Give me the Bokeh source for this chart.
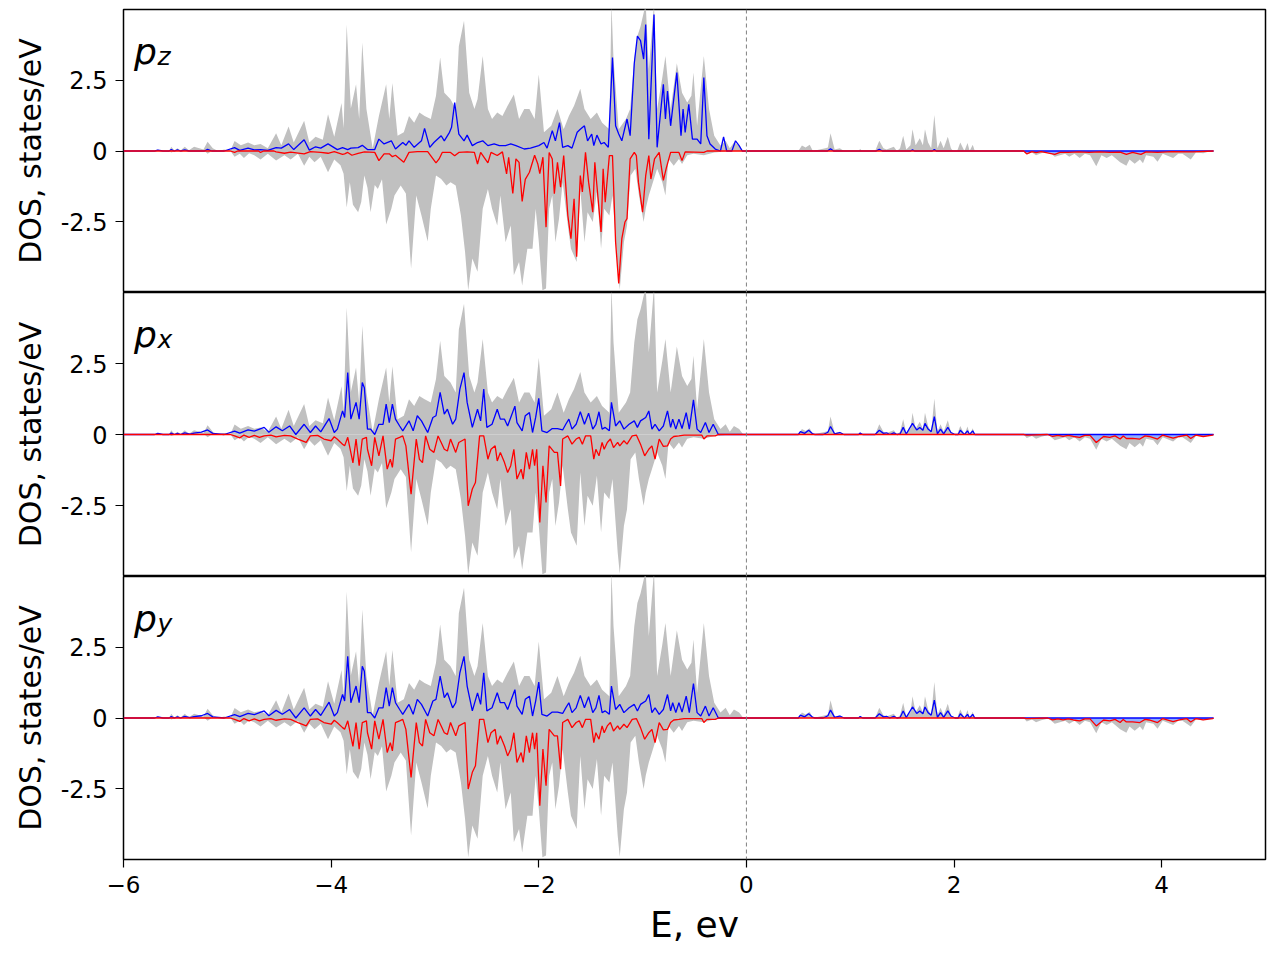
from bokeh.plotting import figure
from bokeh.layouts import column
from bokeh.models import Range1d, FixedTicker, Span, Label
from bokeh.embed import file_html
from bokeh.resources import INLINE

# ---------------- data (energy eV, DOS states/eV) ----------------
E_TICKS = [-6, -4, -2, 0, 2, 4]
E_TICK_LABELS = ["\u22126", "\u22124", "\u22122", "0", "2", "4"]
DOS_TICKS = [-2.5, 0, 2.5]
DOS_TICK_LABELS = ["-2.5", "0", "2.5"]
ORBITALS = ["z", "x", "y"]

# total DOS, spin up (grey, positive)
GREY_UP = [(-6.0,0),(-5.70,0),(-5.67,0.05),(-5.62,0),(-5.56,0),(-5.54,0.15),(-5.51,0.02),(-5.48,0.1),(-5.45,0.02),
 (-5.41,0.15),(-5.37,0.03),(-5.32,0.15),(-5.27,0.1),(-5.23,0.05),(-5.19,0.33),(-5.14,0.1),(-5.09,0.0),(-5.03,0.05),
 (-4.97,0.02),(-4.93,0.35),(-4.87,0.2),(-4.80,0.3),(-4.74,0.2),(-4.68,0.25),(-4.61,0.1),(-4.53,0.63),(-4.48,0.2),
 (-4.41,0.87),(-4.36,0.3),(-4.26,1.07),(-4.21,0.3),(-4.15,0.5),(-4.08,0.4),(-4.03,1.3),(-3.97,0.5),(-3.90,1.7),
 (-3.88,0.8),(-3.85,4.47),(-3.81,1.5),(-3.76,2.36),(-3.73,1.13),(-3.70,3.83),(-3.66,1.48),(-3.60,0.1),(-3.54,1.24),
 (-3.47,2.36),(-3.44,1.13),(-3.41,2.4),(-3.36,0.54),(-3.30,0.66),(-3.25,1.24),(-3.20,1.0),(-3.15,1.36),(-3.10,1.24),
 (-3.04,1.13),(-2.99,1.95),(-2.95,3.3),(-2.91,2.06),(-2.85,1.83),(-2.80,1.48),(-2.77,3.7),(-2.72,4.6),(-2.67,2.06),
 (-2.62,1.48),(-2.59,1.83),(-2.54,3.36),(-2.49,1.48),(-2.45,1.13),(-2.40,1.36),(-2.35,1.24),(-2.30,1.6),(-2.24,2.0),
 (-2.19,1.13),(-2.14,1.48),(-2.09,1.48),(-2.04,1.13),(-2.00,2.7),(-1.95,0.66),(-1.88,0.89),(-1.82,1.48),(-1.76,0.77),
 (-1.71,1.24),(-1.66,1.6),(-1.60,2.2),(-1.56,1.48),(-1.50,1.13),(-1.44,1.36),(-1.39,1.0),(-1.32,0.77),(-1.30,5.2),
 (-1.28,3.24),(-1.23,0.77),(-1.16,1.13),(-1.12,1.48),(-1.08,3.24),(-1.05,4.06),(-1.02,4.4),(-0.97,5.2),(-0.94,2.9),
 (-0.89,5.2),(-0.86,1.48),(-0.81,2.6),(-0.78,3.36),(-0.73,1.48),(-0.67,3.1),(-0.62,2.06),(-0.57,1.71),(-0.53,1.95),
 (-0.51,2.77),(-0.475,0.89),(-0.41,3.36),(-0.36,1.48),(-0.31,0.54),(-0.25,0.19),(-0.20,0.36),(-0.16,0.1),(-0.12,0.3),
 (-0.07,0.19),(-0.03,0.0),(0.50,0),(0.535,0.19),(0.57,0.12),(0.61,0.22),(0.64,0),(0.76,0.1),(0.785,0.12),(0.81,0.63),
 (0.85,0.05),(0.90,0.1),(0.94,0),(1.08,0),(1.096,0.08),(1.11,0),(1.24,0),(1.28,0.36),(1.32,0.1),(1.35,0.05),(1.42,0.15),
 (1.45,0),(1.48,0.1),(1.51,0.54),(1.54,0.05),(1.58,0.2),(1.60,0.77),(1.63,0.2),(1.67,0.45),(1.70,0.2),(1.72,0.77),
 (1.75,0.3),(1.78,0.1),(1.81,1.27),(1.84,0.1),(1.87,0.36),(1.90,0.1),(1.94,0.5),(1.97,0.1),(1.99,0),(2.03,0),(2.06,0.3),
 (2.10,0),(2.13,0.28),(2.15,0),(2.18,0.22),(2.20,0),(4.5,0)]

# total DOS, spin down (grey, negative)
GREY_DN = [(-6.0,0),(-5.56,0),(-5.54,-0.05),(-5.50,0),(-5.22,0),(-5.19,-0.1),(-5.15,0),(-4.97,0),(-4.93,-0.2),(-4.88,-0.1),
 (-4.84,-0.25),(-4.79,-0.08),(-4.74,-0.15),(-4.68,-0.3),(-4.61,-0.1),(-4.53,-0.34),(-4.45,-0.15),(-4.39,-0.3),(-4.32,-0.1),
 (-4.26,-0.52),(-4.21,-0.2),(-4.16,-0.4),(-4.10,-0.2),(-4.03,-0.75),(-3.97,-0.3),(-3.91,-0.5),(-3.88,-0.8),(-3.85,-2.0),
 (-3.82,-1.1),(-3.79,-1.9),(-3.74,-2.16),(-3.71,-1.8),(-3.68,-0.87),(-3.65,-1.3),(-3.62,-2.16),(-3.58,-1.2),(-3.55,-1.34),
 (-3.51,-1.0),(-3.47,-2.6),(-3.42,-2.04),(-3.39,-1.57),(-3.33,-1.22),(-3.28,-1.5),(-3.23,-4.15),(-3.18,-1.57),(-3.13,-2.28),
 (-3.07,-3.2),(-3.04,-2.04),(-2.99,-0.87),(-2.94,-0.99),(-2.89,-1.22),(-2.85,-1.1),(-2.80,-1.22),(-2.75,-2.28),(-2.71,-3.57),
 (-2.68,-4.92),(-2.64,-3.8),(-2.59,-4.27),(-2.54,-2.04),(-2.49,-1.34),(-2.45,-2.04),(-2.40,-2.63),(-2.37,-1.57),(-2.32,-3.22),
 (-2.27,-2.63),(-2.24,-4.39),(-2.19,-3.92),(-2.16,-4.75),(-2.11,-3.45),(-2.06,-3.45),(-2.03,-2.04),(-2.00,-3.2),(-1.965,-4.92),
 (-1.93,-4.86),(-1.90,-2.04),(-1.87,-1.57),(-1.84,-3.22),(-1.805,-2.39),(-1.77,-1.1),(-1.72,-2.63),(-1.69,-3.45),(-1.635,-3.92),
 (-1.60,-1.34),(-1.56,-3.22),(-1.53,-2.16),(-1.48,-2.51),(-1.44,-1.45),(-1.40,-3.45),(-1.37,-2.04),(-1.32,-2.28),(-1.29,-1.57),
 (-1.24,-4.15),(-1.22,-4.9),(-1.18,-3.22),(-1.15,-2.63),(-1.115,-0.87),(-1.07,-0.63),(-1.035,-1.57),(-0.99,-2.51),(-0.97,-2.04),
 (-0.94,-1.57),(-0.91,-1.22),(-0.86,-0.63),(-0.81,-1.1),(-0.78,-1.57),(-0.75,-0.28),(-0.70,-0.52),(-0.65,-0.28),(-0.62,-0.46),
 (-0.57,-0.15),(-0.51,-0.1),(-0.41,-0.15),(-0.31,-0.05),(-0.15,0),(2.67,0),(2.70,-0.12),(2.75,-0.05),(2.79,-0.15),(2.84,-0.08),
 (2.91,-0.02),(2.97,-0.2),(3.02,-0.15),(3.07,-0.1),(3.11,-0.2),(3.16,-0.1),(3.21,-0.25),(3.26,-0.1),(3.31,-0.15),(3.37,-0.54),
 (3.42,-0.15),(3.47,-0.25),(3.52,-0.15),(3.60,-0.4),(3.66,-0.52),(3.69,-0.3),(3.74,-0.45),(3.79,-0.3),(3.82,-0.43),(3.85,-0.15),
 (3.92,-0.2),(3.96,-0.38),(4.01,-0.1),(4.11,-0.25),(4.16,-0.1),(4.20,-0.1),(4.28,-0.3),(4.33,-0.05),(4.40,-0.08),(4.46,-0.02),(4.51,0)]

# p_z spin up (blue) and spin down (red)
BLUE_Z = [(-6.0,0),(-5.70,0),(-5.67,0.03),(-5.62,0),(-5.56,0),(-5.54,0.05),(-5.51,0),(-5.48,0.04),(-5.45,0),(-5.41,0.04),
 (-5.37,0),(-5.22,0),(-5.19,0.06),(-5.15,0),(-5.03,0),(-4.93,0.12),(-4.88,0.02),(-4.80,0.1),(-4.74,0.04),(-4.68,0.05),
 (-4.61,0.02),(-4.53,0.12),(-4.48,0.1),(-4.41,0.25),(-4.36,0.05),(-4.26,0.4),(-4.21,0.03),(-4.15,0.15),(-4.10,0.1),(-4.03,0.25),
 (-3.94,0.05),(-3.89,0.12),(-3.84,0.05),(-3.81,0.1),(-3.74,0.12),(-3.70,0.2),(-3.65,0.05),(-3.58,0.05),(-3.54,0.42),(-3.49,0.25),
 (-3.42,0.36),(-3.38,0.07),(-3.31,0.3),(-3.28,0.2),(-3.25,0.36),(-3.20,0.13),(-3.13,0.36),(-3.10,0.8),(-3.05,0.13),(-3.01,0.3),
 (-2.94,0.54),(-2.91,0.36),(-2.86,0.66),(-2.84,0.84),(-2.81,1.71),(-2.77,0.6),(-2.72,0.36),(-2.69,0.56),(-2.64,0.19),(-2.59,0.3),
 (-2.54,0.36),(-2.49,0.19),(-2.43,0.25),(-2.38,0.19),(-2.32,0.19),(-2.27,0.25),(-2.22,0.19),(-2.14,0.07),(-2.08,0.1),(-2.00,0.19),
 (-1.95,0.3),(-1.92,0.1),(-1.87,0.72),(-1.84,0.36),(-1.80,1.0),(-1.77,0.13),(-1.72,0.19),(-1.68,0.1),(-1.63,0.66),(-1.60,0.77),
 (-1.56,0.89),(-1.53,0.36),(-1.49,0.6),(-1.47,0.19),(-1.44,0.56),(-1.40,0.25),(-1.37,0.3),(-1.33,0.13),(-1.29,3.3),(-1.26,0.89),
 (-1.23,0.6),(-1.20,0.36),(-1.15,1.13),(-1.12,0.54),(-1.08,3.1),(-1.05,4.06),(-1.02,3.9),(-0.99,3.25),(-0.97,4.47),(-0.94,0.42),
 (-0.89,4.82),(-0.86,0.13),(-0.80,2.36),(-0.78,1.13),(-0.76,2.12),(-0.73,0.89),(-0.67,2.77),(-0.63,0.54),(-0.61,1.48),(-0.59,0.66),
 (-0.555,1.65),(-0.52,0.42),(-0.475,0.42),(-0.44,0.25),(-0.41,2.6),(-0.38,0.54),(-0.35,0.25),(-0.30,0.07),(-0.25,0.0),(-0.22,0.5),
 (-0.19,0.0),(-0.14,0.0),(-0.105,0.36),(-0.07,0.19),(-0.04,0.0),(0.78,0),(0.81,0.08),(0.84,0),(1.25,0),(1.28,0.06),(1.31,0),
 (1.58,0),(1.60,0.04),(1.62,0),(1.79,0),(1.81,0.05),(1.83,0),(4.5,0)]

RED_Z = [(-6.0,0),(-4.97,0),(-4.93,-0.05),(-4.90,0),(-4.70,0),(-4.68,-0.05),(-4.65,0),(-4.55,0),(-4.53,-0.03),(-4.45,-0.08),
 (-4.39,-0.04),(-4.26,-0.1),(-4.20,-0.02),(-4.10,-0.05),(-4.03,-0.08),(-3.97,-0.02),(-3.89,-0.12),(-3.87,-0.1),(-3.84,-0.05),
 (-3.80,-0.15),(-3.74,-0.08),(-3.68,-0.03),(-3.58,-0.05),(-3.54,-0.34),(-3.49,-0.1),(-3.44,-0.1),(-3.41,-0.2),(-3.38,-0.15),
 (-3.30,-0.4),(-3.25,-0.05),(-3.17,-0.02),(-3.07,-0.02),(-2.99,-0.42),(-2.96,-0.28),(-2.93,-0.05),(-2.85,-0.05),(-2.81,-0.17),
 (-2.77,-0.05),(-2.69,-0.03),(-2.62,-0.05),(-2.59,-0.46),(-2.56,-0.05),(-2.49,-0.42),(-2.46,-0.05),(-2.40,-0.16),(-2.35,-0.03),
 (-2.31,-0.81),(-2.29,-0.22),(-2.25,-1.5),(-2.22,-0.28),(-2.19,-0.4),(-2.16,-1.78),(-2.13,-1.0),(-2.09,-0.75),(-2.04,-0.15),
 (-2.01,-0.45),(-1.99,-0.8),(-1.96,-0.22),(-1.93,-2.69),(-1.90,-0.05),(-1.87,-0.28),(-1.85,-1.51),(-1.82,-0.4),(-1.79,-1.28),
 (-1.76,-0.16),(-1.72,-2.28),(-1.69,-3.1),(-1.66,-1.69),(-1.635,-3.74),(-1.60,-0.87),(-1.58,-1.45),(-1.55,-0.05),(-1.52,-1.1),
 (-1.48,-2.16),(-1.46,-0.4),(-1.44,-1.22),(-1.40,-2.86),(-1.38,-0.63),(-1.36,-1.81),(-1.32,-0.16),(-1.29,-0.16),(-1.26,-3.22),
 (-1.23,-4.68),(-1.20,-3.1),(-1.17,-2.51),(-1.15,-2.39),(-1.12,-0.28),(-1.08,-0.05),(-1.06,-0.16),(-1.04,-1.1),(-1.00,-2.16),
 (-0.97,-0.87),(-0.94,-0.16),(-0.92,-0.99),(-0.885,-0.28),(-0.84,-0.05),(-0.80,-1.04),(-0.77,-0.58),(-0.73,-0.05),(-0.65,-0.05),
 (-0.62,-0.34),(-0.59,-0.03),(-0.41,-0.05),(-0.38,0),(2.67,0),(2.70,-0.1),(2.75,-0.02),(2.79,-0.06),(2.84,-0.02),(2.97,-0.12),
 (3.02,-0.05),(3.10,-0.05),(3.20,-0.03),(3.30,-0.05),(3.40,-0.03),(3.50,-0.05),(3.60,-0.04),(3.66,-0.12),(3.72,-0.05),
 (3.80,-0.12),(3.85,-0.03),(3.96,-0.05),(4.10,-0.02),(4.30,-0.03),(4.5,0)]

# p_x spin up (blue) and spin down (red); p_y is identical
BLUE_X = [(-6.0,0),(-5.70,0),(-5.67,0.04),(-5.62,0),(-5.56,0),(-5.54,0.05),(-5.51,0),(-5.48,0.04),(-5.45,0),(-5.41,0.06),
 (-5.36,0.01),(-5.32,0.05),(-5.25,0.08),(-5.19,0.16),(-5.14,0.04),(-5.03,0),(-4.93,0.12),(-4.88,0.05),(-4.80,0.16),(-4.74,0.12),
 (-4.645,0.25),(-4.60,0.08),(-4.53,0.27),(-4.47,0.13),(-4.40,0.3),(-4.34,0.0),(-4.26,0.36),(-4.20,0.07),(-4.15,0.3),(-4.10,0.09),
 (-4.02,0.56),(-3.97,0.07),(-3.94,0.19),(-3.89,0.83),(-3.87,0.6),(-3.84,2.18),(-3.81,0.54),(-3.76,1.13),(-3.73,0.54),(-3.70,1.83),
 (-3.68,1.65),(-3.65,0.19),(-3.62,0.19),(-3.58,0.0),(-3.54,0.36),(-3.50,0.36),(-3.47,1.07),(-3.44,0.42),(-3.41,1.07),(-3.38,0.54),
 (-3.34,0.3),(-3.31,0.13),(-3.25,0.48),(-3.21,0.13),(-3.17,0.66),(-3.13,0.48),(-3.07,0.07),(-3.02,0.6),(-2.99,0.66),(-2.95,1.48),
 (-2.91,0.72),(-2.88,0.89),(-2.83,0.36),(-2.80,0.54),(-2.76,1.6),(-2.72,2.18),(-2.69,1.13),(-2.64,0.25),(-2.59,0.89),(-2.56,0.48),
 (-2.53,1.6),(-2.50,0.25),(-2.45,0.36),(-2.40,0.89),(-2.37,0.54),(-2.33,0.54),(-2.30,0.3),(-2.27,0.6),(-2.23,1.0),(-2.21,0.42),
 (-2.16,0.13),(-2.13,0.66),(-2.09,0.77),(-2.06,0.07),(-2.03,0.6),(-2.00,1.27),(-1.97,0.13),(-1.92,0.07),(-1.87,0.21),(-1.82,0.21),
 (-1.77,0.16),(-1.74,0.36),(-1.71,0.54),(-1.68,0.19),(-1.64,0.36),(-1.60,0.8),(-1.56,0.36),(-1.52,0.75),(-1.48,0.19),(-1.45,0.36),
 (-1.42,0.8),(-1.39,0.19),(-1.36,0.25),(-1.32,0.13),(-1.30,1.13),(-1.26,0.3),(-1.22,0.48),(-1.18,0.19),(-1.13,0.36),(-1.08,0.48),
 (-1.05,0.25),(-1.02,0.48),(-0.97,0.6),(-0.94,0.83),(-0.91,0.19),(-0.88,0.36),(-0.84,0.13),(-0.80,0.3),(-0.76,0.83),(-0.73,0.25),
 (-0.71,0.54),(-0.68,0.19),(-0.65,0.54),(-0.62,0.21),(-0.58,0.77),(-0.55,0.19),(-0.51,1.22),(-0.475,0.19),(-0.44,0.07),
 (-0.395,0.42),(-0.36,0.07),(-0.32,0.36),(-0.28,0.07),(-0.27,0),(0.50,0),(0.52,0.1),(0.56,0.04),(0.60,0.15),(0.64,0.02),(0.66,0),
 (0.74,0),(0.785,0.08),(0.81,0.28),(0.85,0.02),(0.90,0.07),(0.94,0),(1.08,0),(1.096,0.05),(1.12,0),(1.24,0),(1.28,0.15),
 (1.32,0.04),(1.35,0.06),(1.38,0),(1.42,0.06),(1.45,0),(1.48,0.02),(1.51,0.25),(1.54,0.02),(1.60,0.39),(1.64,0.16),(1.67,0.25),
 (1.70,0.15),(1.72,0.39),(1.75,0.19),(1.78,0.1),(1.81,0.63),(1.84,0.02),(1.87,0.19),(1.90,0.02),(1.94,0.25),(1.97,0.07),(2.01,0),
 (2.04,0),(2.06,0.15),(2.10,0),(2.13,0.13),(2.15,0),(2.18,0.13),(2.20,0),(4.5,0)]

RED_X = [(-6.0,0),(-4.97,0),(-4.93,-0.05),(-4.88,-0.12),(-4.84,-0.02),(-4.79,-0.1),(-4.74,-0.03),(-4.69,-0.1),(-4.645,-0.05),
 (-4.58,-0.02),(-4.53,-0.08),(-4.45,-0.03),(-4.39,-0.05),(-4.32,-0.16),(-4.24,-0.28),(-4.20,-0.05),(-4.13,-0.03),(-4.07,-0.16),
 (-4.00,-0.22),(-3.97,-0.08),(-3.94,-0.17),(-3.89,-0.34),(-3.87,-0.4),(-3.84,-0.1),(-3.79,-1.0),(-3.76,-0.16),(-3.73,-1.1),
 (-3.70,-0.16),(-3.66,-0.1),(-3.65,-0.52),(-3.61,-1.1),(-3.58,-0.1),(-3.54,-0.75),(-3.50,-0.05),(-3.46,-1.22),(-3.43,-0.87),
 (-3.41,-1.16),(-3.38,-0.16),(-3.34,-0.1),(-3.31,-0.05),(-3.28,-0.4),(-3.23,-2.1),(-3.18,-0.16),(-3.15,-0.87),(-3.12,-0.99),
 (-3.09,-0.05),(-3.05,-0.52),(-3.01,-0.63),(-2.97,-0.05),(-2.94,-0.28),(-2.91,-0.52),(-2.88,-0.58),(-2.85,-0.16),(-2.80,-0.63),
 (-2.77,-0.28),(-2.71,-0.16),(-2.68,-2.51),(-2.64,-1.92),(-2.61,-1.69),(-2.57,-0.05),(-2.53,-0.05),(-2.49,-0.87),(-2.46,-0.52),
 (-2.42,-0.4),(-2.40,-0.93),(-2.37,-0.63),(-2.33,-0.99),(-2.30,-1.34),(-2.27,-1.1),(-2.24,-0.52),(-2.21,-1.57),(-2.17,-1.22),
 (-2.15,-1.57),(-2.12,-0.63),(-2.09,-1.22),(-2.06,-0.52),(-2.04,-1.1),(-2.02,-0.52),(-1.99,-3.1),(-1.96,-1.1),(-1.93,-2.39),
 (-1.90,-0.4),(-1.85,-0.63),(-1.82,-0.63),(-1.79,-1.81),(-1.77,-0.16),(-1.72,-0.05),(-1.68,-0.34),(-1.64,-0.16),(-1.61,-0.1),
 (-1.58,-0.34),(-1.55,-0.05),(-1.50,-0.05),(-1.47,-0.87),(-1.45,-0.52),(-1.42,-0.75),(-1.39,-0.28),(-1.37,-0.52),(-1.34,-0.28),
 (-1.31,-0.16),(-1.28,-0.46),(-1.24,-0.28),(-1.22,-0.4),(-1.18,-0.22),(-1.15,-0.34),(-1.10,-0.05),(-1.06,-0.02),(-1.02,-0.34),
 (-0.98,-0.75),(-0.94,-0.52),(-0.91,-0.4),(-0.88,-0.87),(-0.84,-0.16),(-0.80,-0.42),(-0.76,-0.4),(-0.73,-0.16),(-0.70,-0.07),
 (-0.65,-0.05),(-0.60,-0.02),(-0.43,-0.02),(-0.41,-0.16),(-0.38,-0.05),(-0.30,-0.05),(-0.27,0),(2.67,0),(2.70,-0.02),(2.90,0),
 (2.95,-0.07),(3.00,-0.03),(3.05,-0.07),(3.10,-0.03),(3.15,-0.07),(3.21,-0.1),(3.26,-0.03),(3.31,-0.03),(3.37,-0.28),(3.44,-0.07),
 (3.50,-0.1),(3.55,-0.05),(3.60,-0.16),(3.63,-0.05),(3.66,-0.14),(3.72,-0.14),(3.79,-0.16),(3.84,-0.05),(3.88,-0.07),(3.96,-0.16),
 (4.01,-0.02),(4.11,-0.13),(4.17,-0.07),(4.24,-0.02),(4.28,-0.14),(4.33,-0.02),(4.40,-0.07),(4.49,-0.02),(4.5,0)]

BLUE_Y = BLUE_X
RED_Y = RED_X


def split(pairs):
    return [a for a, _ in pairs], [b for _, b in pairs]


FONT = "DejaVu Sans"
x_range = Range1d(-6, 5)
series = [(BLUE_Z, RED_Z), (BLUE_X, RED_X), (BLUE_Y, RED_Y)]
eu, gu = split(GREY_UP)
ed, gd = split(GREY_DN)

figs = []
for i, (sub, (blue, red)) in enumerate(zip(ORBITALS, series)):
    last = i == 2
    p = figure(frame_width=1142, frame_height=284 if i == 1 else 283,
               x_range=x_range, y_range=Range1d(-5, 5),
               output_backend="svg", toolbar_location=None,
               min_border_left=123, min_border_right=3,
               min_border_top=9 if i == 0 else 0,
               min_border_bottom=96 if last else 0)
    p.grid.visible = False
    p.outline_line_color = "black"
    p.outline_line_width = 1.5
    p.outline_line_alpha = 1.0
    p.background_fill_color = "white"
    p.border_fill_color = "white"

    p.varea(x=eu, y1=0, y2=gu, fill_color="#c0c0c0")
    p.varea(x=ed, y1=gd, y2=0, fill_color="#c0c0c0")

    eb, vb = split(blue)
    er, vr = split(red)
    erf = [e for e in er if e >= 2.6]
    vrf = [v for e, v in zip(er, vr) if e >= 2.6]
    p.varea(x=erf, y1=vrf, y2=0, fill_color="#8fb0ff")
    p.line(eb, vb, line_color="#0000ff", line_width=1.3)
    p.line(er, vr, line_color="#ff0000", line_width=1.3)

    p.add_layout(Span(location=0, dimension="height", line_color="#808080",
                      line_dash="4 3", line_width=1))

    p.add_layout(Label(x=-5.90, y=3.53, text="p", text_font=FONT, text_font_size="36px",
                       text_font_style="italic", text_baseline="alphabetic", text_color="black"))
    p.add_layout(Label(x=-5.673, y=3.35, text=sub, text_font=FONT, text_font_size="25px",
                       text_font_style="italic", text_baseline="alphabetic", text_color="black"))

    ya = p.yaxis[0]
    ya.ticker = FixedTicker(ticks=DOS_TICKS)
    ya.major_label_overrides = dict(zip(DOS_TICKS, DOS_TICK_LABELS))
    ya.minor_tick_line_color = None
    ya.major_tick_in = 0
    ya.major_tick_out = 8
    ya.major_tick_line_width = 1.2
    ya.axis_line_color = None
    ya.major_label_text_font = FONT
    ya.major_label_text_font_size = "24px"
    ya.major_label_text_color = "black"
    ya.major_label_standoff = 8
    ya.axis_label = "DOS, states/eV"
    ya.axis_label_text_font = FONT
    ya.axis_label_text_font_size = "30px"
    ya.axis_label_text_font_style = "normal"
    ya.axis_label_text_color = "black"
    ya.axis_label_standoff = 10

    xa = p.xaxis[0]
    if last:
        xa.ticker = FixedTicker(ticks=E_TICKS)
        xa.major_label_overrides = dict(zip(E_TICKS, E_TICK_LABELS))
        xa.minor_tick_line_color = None
        xa.major_tick_in = 0
        xa.major_tick_out = 8
        xa.major_tick_line_width = 1.2
        xa.axis_line_color = None
        xa.major_label_text_font = FONT
        xa.major_label_text_font_size = "23px"
        xa.major_label_text_color = "black"
        xa.major_label_standoff = 8
        xa.axis_label = "E, ev"
        xa.axis_label_text_font = FONT
        xa.axis_label_text_font_size = "36px"
        xa.axis_label_text_font_style = "normal"
        xa.axis_label_text_color = "black"
        xa.axis_label_standoff = 8
    else:
        xa.visible = False
    figs.append(p)

layout = column(*figs, spacing=0)
open("out.html", "w").write(file_html(layout, INLINE))
